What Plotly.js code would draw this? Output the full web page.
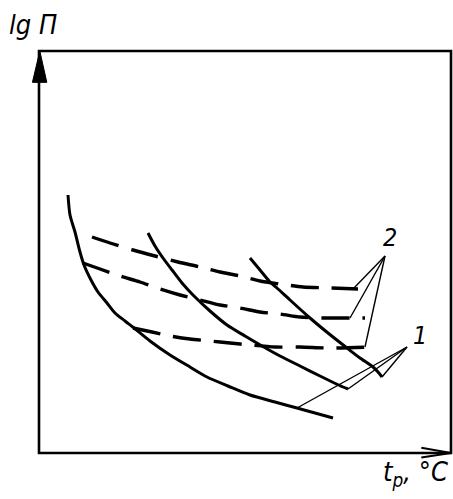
<!DOCTYPE html>
<html>
<head>
<meta charset="utf-8">
<script src="https://cdn.plot.ly/plotly-3.0.1.min.js"></script>
<style>
  html, body { margin: 0; padding: 0; background: #fff; }
  #chart { width: 453px; height: 499px; }
</style>
</head>
<body>
<div id="chart"></div>
<script>
// Curves of lg П versus t_p (arbitrary units, no scale on the axes)

// Solid curves, family 1
const solidA_t   = [29, 31, 36, 41, 45, 52, 59, 68, 76, 86, 95, 111, 131, 151, 168, 189, 211, 236, 258, 276, 294];
const solidA_lgP = [258, 238, 221, 201, 188, 173, 161, 150, 140, 132, 125, 112, 98, 86, 76, 67, 58, 51, 45, 40, 35];

const solidB_t   = [109, 116, 124, 133, 143, 154, 171, 188, 206, 223, 241, 261, 281, 304, 309];
const solidB_lgP = [220, 207, 195, 183, 170, 158, 142, 128, 117, 107, 97, 87, 77, 66, 64];

const solidC_t   = [211, 221, 231, 238, 251, 271, 289, 308, 321, 334, 339, 343];
const solidC_lgP = [195, 183, 171, 165, 153, 135, 120, 105, 95, 86, 81, 76];

// Dashed curves, family 2
const dashed1_t   = [53, 71, 94, 116, 139, 161, 181, 201, 221, 241, 264, 291, 319];
const dashed1_lgP = [216, 210, 203, 197, 191, 186, 181, 177, 172, 169, 166, 165, 164];

const dashed2_t   = [44, 61, 81, 101, 121, 141, 161, 181, 201, 221, 241, 261, 281, 301, 326];
const dashed2_lgP = [190, 184, 177, 171, 164, 158, 153, 148, 145, 141, 139, 136, 135, 135, 135];

const dashed3_t   = [94, 113, 131, 151, 171, 191, 211, 236, 261, 291, 331];
const dashed3_lgP = [125, 121, 117, 114, 112, 110, 108, 106, 106, 105, 106];

// Callouts: label text, label position, and the points its leader lines reach
const label1 = '1';
const label1_pos = [381, 118];
const label1_tip = [368, 106];
const label1_ends_t   = [258, 309, 343];
const label1_ends_lgP = [45, 64, 76];

const label2 = '2';
const label2_pos = [351, 216];
const label2_tip = [346, 197];
const label2_ends_t   = [314, 311, 326];
const label2_ends_lgP = [164, 135, 106];

const yTitle = 'lg П';
const xTitle = 't<sub>p</sub>, °C';

const tRange = [0, 412];
const lgPRange = [0, 402];

const INK = '#000';
const FONT = 'Liberation Sans Narrow, DejaVu Sans Condensed, sans-serif';

function solid(x, y) {
  return { x, y, type: 'scatter', mode: 'lines', hoverinfo: 'skip',
           line: { color: INK, width: 3, shape: 'spline', smoothing: 0.7 } };
}
function dashed(x, y) {
  return { x, y, type: 'scatter', mode: 'lines', hoverinfo: 'skip',
           line: { color: INK, width: 3.4, dash: '28px,13px', shape: 'spline', smoothing: 0.7 } };
}
function leaders(tip, endsX, endsY) {
  const x = [], y = [];
  endsX.forEach((ex, i) => { x.push(ex, tip[0], null); y.push(endsY[i], tip[1], null); });
  return { x, y, type: 'scatter', mode: 'lines', hoverinfo: 'skip',
           line: { color: INK, width: 1.4 }, connectgaps: false };
}

const traces = [
  solid(solidA_t, solidA_lgP),
  solid(solidB_t, solidB_lgP),
  solid(solidC_t, solidC_lgP),
  dashed(dashed1_t, dashed1_lgP),
  dashed(dashed2_t, dashed2_lgP),
  dashed(dashed3_t, dashed3_lgP),
  leaders(label1_tip, label1_ends_t, label1_ends_lgP),
  leaders(label2_tip, label2_ends_t, label2_ends_lgP)
];

const labelFont = { family: FONT, size: 25, color: INK, style: 'italic', weight: 'normal' };
const titleFont = { family: FONT, size: 27, color: INK, style: 'italic', weight: 'normal' };

const layout = {
  width: 453, height: 499,
  margin: { l: 39, r: 2, t: 51, b: 46, pad: 0 },
  paper_bgcolor: '#fff', plot_bgcolor: '#fff',
  showlegend: false,
  xaxis: { range: tRange, visible: false, fixedrange: true },
  yaxis: { range: lgPRange, visible: false, fixedrange: true },
  shapes: [
    // frame
    { type: 'rect', xref: 'paper', yref: 'paper', x0: 0, x1: 1, y0: 0, y1: 1,
      line: { color: INK, width: 2.6 } },
    // arrow head on the lg П axis
    { type: 'path', xref: 'paper', yref: 'paper',
      path: 'M 0.002,1 L -0.016,0.922 L 0.019,0.922 Z',
      fillcolor: INK, line: { color: INK, width: 1 } },
    // arrow head on the t_p axis
    { type: 'path', xref: 'paper', yref: 'paper',
      path: 'M 0.928,0.013 L 1,0 L 0.928,-0.011',
      line: { color: INK, width: 2 } }
  ],
  annotations: [
    { text: label1, xref: 'x', yref: 'y', x: label1_pos[0], y: label1_pos[1],
      showarrow: false, font: labelFont },
    { text: label2, xref: 'x', yref: 'y', x: label2_pos[0], y: label2_pos[1],
      showarrow: false, font: labelFont },
    { text: yTitle, xref: 'paper', yref: 'paper', x: -0.077, y: 1.066,
      xanchor: 'left', yanchor: 'middle', showarrow: false, font: titleFont },
    { text: xTitle, xref: 'paper', yref: 'paper', x: 0.998, y: -0.052,
      xanchor: 'right', yanchor: 'middle', showarrow: false, font: titleFont }
  ]
};

Plotly.newPlot('chart', traces, layout, { staticPlot: true, displayModeBar: false });
</script>
</body>
</html>
